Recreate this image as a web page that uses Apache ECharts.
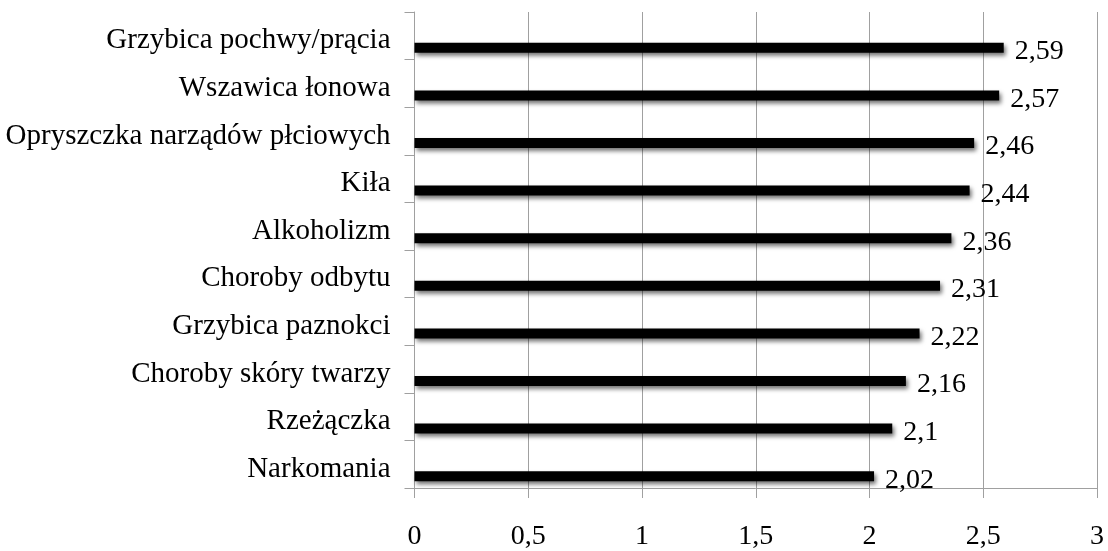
<!DOCTYPE html>
<html>
<head>
<meta charset="utf-8">
<script src="https://cdn.jsdelivr.net/npm/echarts@6/dist/echarts.min.js"></script>
<style>
html,body{margin:0;padding:0;background:#fff;}
#chart{width:1108px;height:551px;}
</style>
</head>
<body>
<div id="chart"></div>
<script>
var categories = ['Narkomania','Rzeżączka','Choroby skóry twarzy','Grzybica paznokci','Choroby odbytu','Alkoholizm','Kiła','Opryszczka narządów płciowych','Wszawica łonowa','Grzybica pochwy/prącia'];
var values = [2.02, 2.1, 2.16, 2.22, 2.31, 2.36, 2.44, 2.46, 2.57, 2.59];
var placeholder = [null, null, null, null, null, null, null, null, null, null];
var xTicks = {min: 0, max: 3, interval: 0.5};

var fontFamily = 'Liberation Serif';
var chart = echarts.init(document.getElementById('chart'));
chart.setOption({
  animation: false,
  backgroundColor: '#fff',
  grid: {left: 414.5, right: 11, top: 12, bottom: 58, containLabel: false},
  xAxis: {
    type: 'value', min: xTicks.min, max: xTicks.max, interval: xTicks.interval,
    axisLine: {show: true, lineStyle: {color: '#a0a0a0', width: 1}},
    axisTick: {show: true, length: 10, lineStyle: {color: '#a0a0a0'}},
    splitLine: {show: true, lineStyle: {color: '#a0a0a0', width: 1}},
    axisLabel: {
      color: '#000', fontFamily: fontFamily, fontSize: 28, margin: 35,
      formatter: function (v) { return String(v).replace('.', ','); }
    }
  },
  yAxis: {
    type: 'category', data: categories,
    axisLine: {show: true, lineStyle: {color: '#a0a0a0', width: 1}},
    axisTick: {show: true, length: 10, lineStyle: {color: '#a0a0a0'}},
    splitLine: {show: false},
    axisLabel: {color: '#000', fontFamily: fontFamily, fontSize: 29, margin: 24, verticalAlign: 'top', lineHeight: 10}
  },
  series: [
    {type: 'bar', data: placeholder, barWidth: 10, barGap: '140%', silent: true},
    {
      type: 'bar', data: values, barWidth: 10, barGap: '140%',
      itemStyle: {color: '#000', shadowColor: 'rgba(0,0,0,0.55)', shadowBlur: 4, shadowOffsetX: 2, shadowOffsetY: 3},
      label: {
        show: true, position: 'right', distance: 11, offset: [0, 4], color: '#000',
        fontFamily: fontFamily, fontSize: 28,
        formatter: function (p) { return String(p.value).replace('.', ','); }
      }
    }
  ]
});
</script>
</body>
</html>
